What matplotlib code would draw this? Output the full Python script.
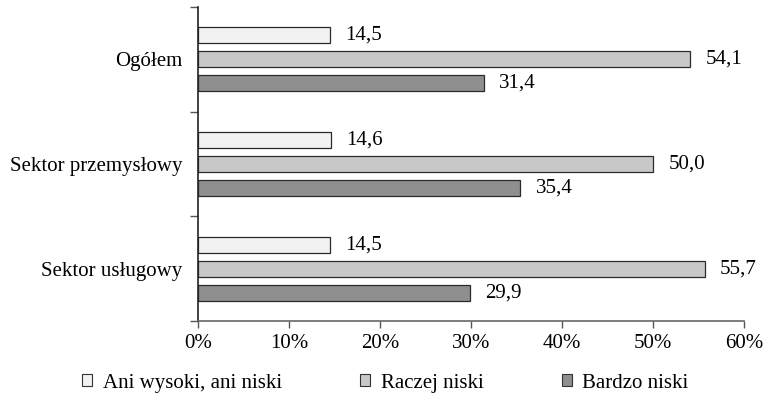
import matplotlib.pyplot as plt
import numpy as np
from matplotlib.patches import Patch

plt.rcParams['font.family'] = ['Liberation Serif', 'DejaVu Serif']

categories = ['Ogółem', 'Sektor przemysłowy', 'Sektor usługowy']
series_names = ['Ani wysoki, ani niski', 'Raczej niski', 'Bardzo niski']
ani = [14.5, 14.6, 14.5]
raczej = [54.1, 50.0, 55.7]
bardzo = [31.4, 35.4, 29.9]
xticks = [0, 10, 20, 30, 40, 50, 60]

colors = ['#f2f2f2', '#c8c8c8', '#8f8f8f']
series = [ani, raczej, bardzo]
fs = 15

fig = plt.figure(figsize=(7.66, 3.97), dpi=100)
ax = fig.add_axes([0.2585, 0.1914, 0.7125, 0.791])

y = np.arange(len(categories))
h = 0.153
step = 0.229
for i, vals in enumerate(series):
    pos = y + (i - 1) * step
    ax.barh(pos, vals, height=h, color=colors[i], edgecolor='#2a2a2a', linewidth=0.9)
    for p, v in zip(pos, vals):
        ax.text(v + 1.7, p, f'{v:.1f}'.replace('.', ','), va='center', ha='left', fontsize=fs)

ax.set_xlim(0, 60)
ax.set_ylim(2.5, -0.5)
ax.set_xticks(xticks)
ax.set_xticklabels([f'{t}%' for t in xticks], fontsize=fs)
ax.set_yticks(y)
ax.set_yticklabels(categories, fontsize=fs)
ax.tick_params(axis='y', length=0, pad=11)
ax.set_yticks([-0.5, 0.5, 1.5, 2.5], minor=True)
ax.tick_params(axis='y', which='minor', length=6, width=1, color='#555555')
ax.tick_params(axis='x', length=5, width=1, color='#555555', pad=4)

for s in ['top', 'right']:
    ax.spines[s].set_visible(False)
ax.spines['left'].set_color('#222222')
ax.spines['bottom'].set_color('#666666')
ax.spines['left'].set_linewidth(1.2)
ax.spines['bottom'].set_linewidth(1.2)

handles = [Patch(facecolor=c, edgecolor='#333333', linewidth=0.8) for c in colors]
fig.legend(handles, series_names, loc='center', bbox_to_anchor=(0.503, 0.035), ncol=3,
           frameon=False, fontsize=fs, handlelength=0.5, handleheight=0.5,
           handletextpad=0.5, columnspacing=3.75)

fig.savefig('out.png', dpi=100)
